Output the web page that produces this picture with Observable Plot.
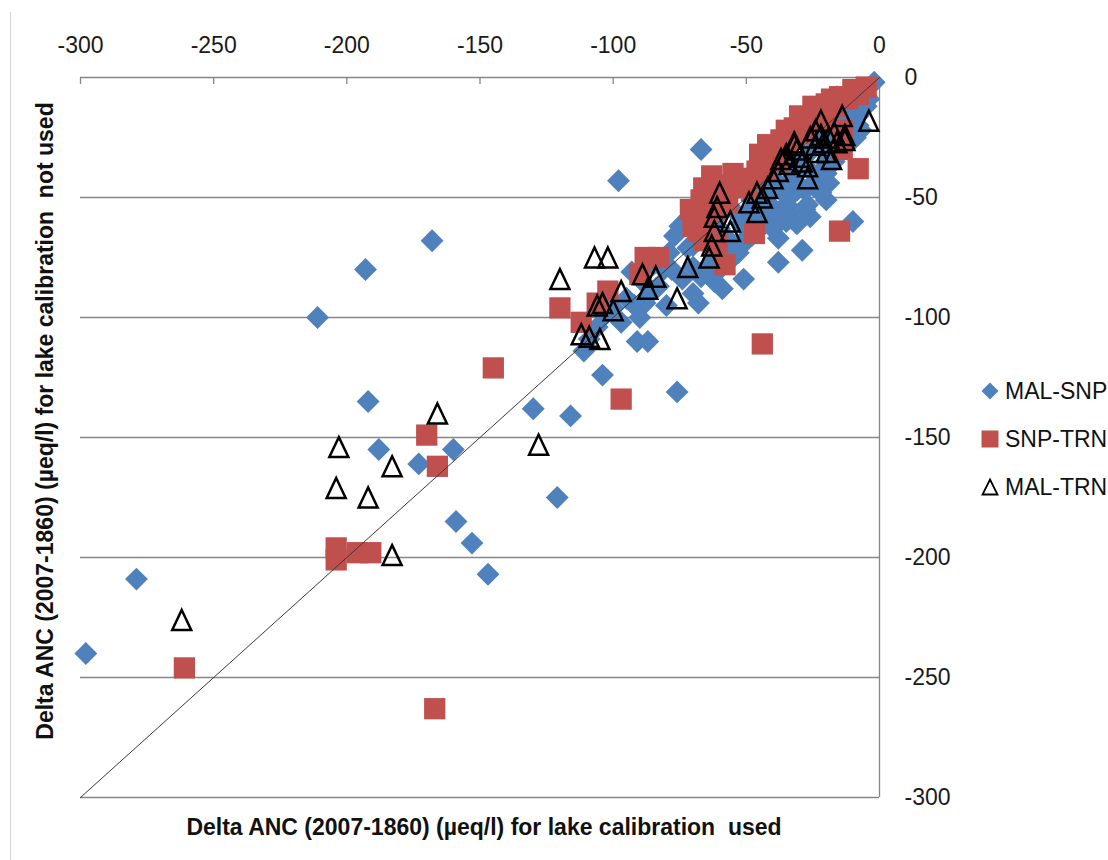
<!DOCTYPE html>
<html><head><meta charset="utf-8">
<script src="https://cdn.jsdelivr.net/npm/d3@7"></script>
<script src="https://cdn.jsdelivr.net/npm/@observablehq/plot@0.6"></script>
<style>
body{margin:0;background:#fff;}
#wrap{position:relative;width:1108px;height:860px;font-family:"Liberation Sans",Arial,sans-serif;color:#111;}
#wrap svg{position:absolute;left:0;top:0;}
.border{position:absolute;left:10px;top:12px;height:848px;border-left:1px solid #d4d4d4;}
.xtitle{position:absolute;left:484px;top:816px;transform:translateX(-50%);font-weight:bold;font-size:23px;line-height:23px;white-space:pre;}
.ytitle{position:absolute;left:45px;top:421px;transform:translate(-50%,-50%) rotate(-90deg);font-weight:bold;font-size:23px;line-height:23px;white-space:pre;}
.lg{position:absolute;font-size:23px;line-height:23px;white-space:pre;}
.lgsym{position:absolute;}
</style>
</head><body>
<div id="wrap">
  <div class="border"></div>
</div>
<script>
// ---- data ----
const xTicks = [-300, -250, -200, -150, -100, -50, 0];
const yTicks = [0, -50, -100, -150, -200, -250, -300];
const seriesNames = ["MAL-SNP", "SNP-TRN", "MAL-TRN"];
const oneToOne = [-300, 0];
const xTitle = "Delta ANC (2007-1860) (\u00b5eq/l) for lake calibration  used";
const yTitle = "Delta ANC (2007-1860) (\u00b5eq/l) for lake calibration  not used";

const malSnpX = [-298,-279,-211,-193,-192,-168,-188,-173,-160,-159,-153,-147,-130,-121,-116,-104,-98,-67,-76,-111,-91,-87,-68,-59,-51,-100,-93,-10,-20,-29,-38,-26,-38,-2,
  -16,-6,-10,-8,-7,-9,-12,-18,-17,-14,-22,-22,-24,-27,-19,-31,-33,-28,-36,-40,-42,-45,-47,-49,-52,-53,-55,-56,-58,-61,-62,-64,-66,-67,-70,-72,-75,-77,-74,-79,-81,-83,-85,-87,-89,-92,-95,-97,-103,-106,-109,
  -35,-31,-26,-44,-48,-60,-65,-70,-24,-4,-13,-15,-20,-25,-30,-34,-40,-44,-50,-55,-60,-30,-40,-45,-55,-78,-84,-88,-31,-22,-57,-52,
  -5,-8,-12,-16,-20,-25,-28,-35,-40,-48,-53,-58,-62,-70,-80,-90,-43,-37,-33,-18];
const malSnpY = [-240,-209,-100,-80,-135,-68,-155,-161,-155,-185,-194,-207,-138,-175,-141,-124,-43,-30,-131,-114,-110,-110,-94,-88,-84,-96,-81,-60,-51,-72,-77,-58,-67,-2,
  -8,-6,-12,-16,-22,-25,-28,-31,-35,-20,-26,-39,-43,-53,-44,-61,-55,-47,-54,-47,-52,-58,-63,-56,-61,-42,-44,-70,-66,-72,-59,-78,-63,-83,-79,-71,-62,-66,-84,-73,-80,-87,-78,-91,-85,-95,-92,-102,-99,-104,-109,
  -37,-35,-31,-49,-51,-63,-67,-70,-27,-9,-15,-25,-35,-40,-45,-50,-58,-62,-68,-75,-80,-38,-42,-46,-55,-80,-88,-94,-47,-48,-68,-69,
  -12,-20,-22,-30,-40,-45,-55,-60,-63,-66,-73,-76,-85,-90,-95,-100,-57,-47,-42,-22];

const snpTrnX = [-261,-167,-204,-204,-196,-191,-170,-166,-145,-120,-112,-97,-44,-15,-8,-102,-106,-88,-83,-90,
  -58,-61,-47,-63,-67,-69,-68,-66,-50,-48,-43,-38,-37,-35,-8,-12,-17,-20,-22,-27,-29,-32,-40,-43,-53,-52,-46,-40,-37,-32,-27,-23,-20,-15,-14,-14,-62,-64,-57,-70,-65,
  -55,-58,-60,-45,-42,-35,-30,-25,-18,-10,-5,-66,-71];
const snpTrnY = [-246,-263,-196,-201,-198,-198,-149,-162,-121,-96,-102,-134,-111,-64,-38,-89,-94,-75,-75,-82,
  -78,-69,-65,-41,-51,-57,-64,-68,-46,-42,-38,-35,-30,-28,-7,-9,-12,-14,-17,-19,-23,-25,-30,-34,-44,-43,-39,-29,-26,-21,-18,-14,-11,-8,-22,-30,-55,-48,-52,-62,-60,
  -40,-45,-50,-32,-28,-22,-16,-12,-9,-5,-4,-46,-55];

const malTrnX = [-262,-203,-204,-192,-183,-183,-166,-128,-120,-107,-102,-112,-109,-105,-106,-104,-97,-100,-89,-84,-87,-72,-76,-4,
  -60,-61,-62,-56,-56,-63,-64,-46,-49,-46,-42,-38,-35,-32,-29,-27,-22,-24,-20,-18,-27,-14,-13,-17,-22,-21,-26,-32,-31,-37,-30,-62,-40,-44,-16,-19,-24,-34,-23,-13];
const malTrnY = [-226,-154,-171,-175,-162,-199,-140,-153,-84,-75,-75,-107,-108,-109,-95,-94,-89,-97,-82,-83,-88,-79,-92,-18,
  -48,-54,-58,-60,-64,-70,-75,-48,-52,-56,-46,-39,-32,-28,-35,-42,-24,-28,-31,-34,-37,-16,-24,-23,-18,-27,-25,-27,-30,-34,-33,-64,-42,-50,-27,-25,-22,-36,-31,-26];

const rows = (xs, ys) => xs.map((x, i) => ({x, y: ys[i]}));
const malSnp = rows(malSnpX, malSnpY);
const snpTrn = rows(snpTrnX, snpTrnY);
const malTrn = rows(malTrnX, malTrnY);

// ---- styles ----
const blue = "#4F81BD", red = "#C0504D", grid = "#868686";
const triangle = {
  draw(ctx, size) {
    const k = Math.sqrt(size / Math.PI);
    ctx.moveTo(0, -k * 1.05);
    ctx.lineTo(k, k * 1.05);
    ctx.lineTo(-k, k * 1.05);
    ctx.closePath();
  }
};

const chart = Plot.plot({
  width: 1108, height: 860,
  marginLeft: 80, marginRight: 229, marginTop: 77, marginBottom: 63,
  style: {fontFamily: '"Liberation Sans", Arial, sans-serif', fontSize: "23px", color: "#1a1a1a", background: "transparent", overflow: "visible"},
  x: {domain: [-300, 0]},
  y: {domain: [-300, 0]},
  marks: [
    Plot.ruleY(yTicks, {y: d => d, stroke: grid, strokeWidth: 1.3}),
    Plot.ruleX(oneToOne.slice(1), {x: d => d, stroke: grid, strokeWidth: 1.3}),
    Plot.tickX(xTicks, {x: d => d, insetBottom: 713, stroke: grid, strokeWidth: 1.3}),
    Plot.axisX({anchor: "top", ticks: xTicks, tickSize: 0, tickPadding: 25, tickFormat: d => String(d), label: null, fontSize: 23}),
    Plot.axisY({anchor: "right", ticks: yTicks, tickSize: 0, tickPadding: 25, tickFormat: d => String(d), label: null, fontSize: 23, textAnchor: "start"}),
    Plot.dot(malSnp, {x: "x", y: "y", symbol: "diamond2", r: 10.3, fill: blue}),
    Plot.dot(snpTrn, {x: "x", y: "y", symbol: "square", r: 12, fill: red}),
    Plot.line(oneToOne, {x: d => d, y: d => d, stroke: "#3a3a3a", strokeWidth: 1}),
    Plot.dot(malTrn, {x: "x", y: "y", symbol: triangle, r: 9.5, stroke: "#000", strokeWidth: 2.5, fill: "none"})
  ]
});
const wrap = document.getElementById("wrap");
wrap.appendChild(chart);

// titles
const xt = document.createElement("div"); xt.className = "xtitle"; xt.textContent = xTitle; wrap.appendChild(xt);
const yt = document.createElement("div"); yt.className = "ytitle"; yt.textContent = yTitle; wrap.appendChild(yt);

// legend
const legendSyms = [
  '<svg width="20" height="20" viewBox="-10 -10 20 20"><path d="M0,-8.5L8.5,0L0,8.5L-8.5,0Z" fill="' + blue + '"/></svg>',
  '<svg width="20" height="20" viewBox="-10 -10 20 20"><rect x="-8.5" y="-8.5" width="17" height="17" fill="' + red + '"/></svg>',
  '<svg width="20" height="20" viewBox="-10 -10 20 20"><path d="M0,-7.5L7.5,7.5L-7.5,7.5Z" fill="none" stroke="#000" stroke-width="1.8"/></svg>'
];
const legendY = [391, 439, 487];
seriesNames.forEach((name, i) => {
  const s = document.createElement("div");
  s.className = "lgsym";
  s.style.left = (990 - 10) + "px";
  s.style.top = (legendY[i] - 10) + "px";
  s.innerHTML = legendSyms[i];
  wrap.appendChild(s);
  const t = document.createElement("div");
  t.className = "lg";
  t.style.left = "1005px";
  t.style.top = (legendY[i] - 11.5) + "px";
  t.textContent = name;
  wrap.appendChild(t);
});
</script>
</body></html>
